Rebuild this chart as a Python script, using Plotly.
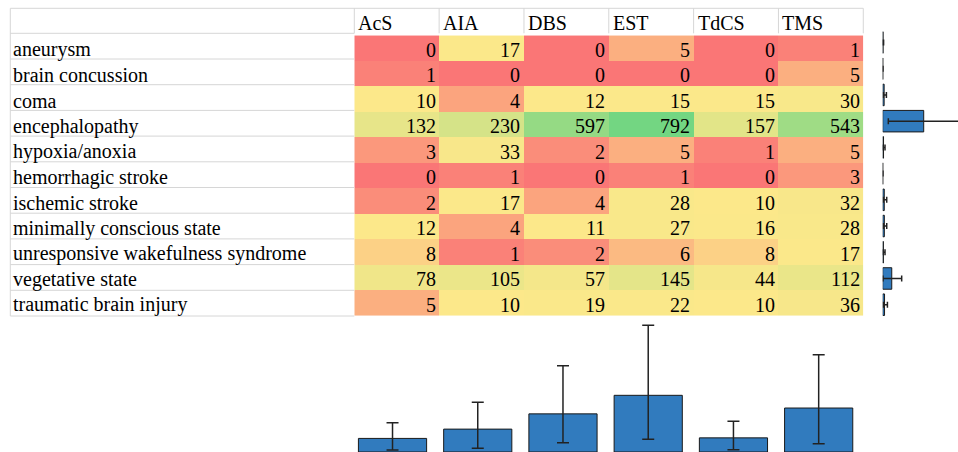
import numpy as np
import plotly.graph_objects as go

# ---------------- data ----------------
rows = ["aneurysm", "brain concussion", "coma", "encephalopathy", "hypoxia/anoxia",
        "hemorrhagic stroke", "ischemic stroke", "minimally conscious state",
        "unresponsive wakefulness syndrome", "vegetative state", "traumatic brain injury"]
cols = ["AcS", "AIA", "DBS", "EST", "TdCS", "TMS"]

acs = [0, 1, 10, 132, 3, 0, 2, 12, 8, 78, 5]
aia = [17, 0, 4, 230, 33, 1, 17, 4, 1, 105, 10]
dbs = [0, 0, 12, 597, 2, 0, 4, 11, 2, 57, 19]
est = [5, 0, 15, 792, 5, 1, 28, 27, 6, 145, 22]
tdcs = [0, 0, 15, 157, 1, 0, 10, 16, 8, 44, 10]
tms = [1, 5, 30, 543, 5, 3, 32, 28, 17, 112, 36]

# right-hand bar chart (per row)
row_mean = [3.8, 1.0, 14.3, 408.5, 8.2, 0.8, 15.5, 16.3, 7.0, 90.2, 18.3]
row_low = [0.3, 0.0, 7.0, 56.0, 2.0, 0.0, 7.0, 7.0, 2.0, 3.0, 7.0]
row_high = [9.0, 3.0, 37.0, 900.0, 23.0, 2.5, 40.0, 40.0, 23.0, 189.0, 47.0]

# bottom bar chart (per column)
col_mean = [22.8, 38.4, 64.0, 95.1, 23.7, 73.8]
col_low = [3.4, 6.2, 15.6, 21.3, 3.9, 13.9]
col_high = [49.2, 83.4, 144.8, 212.6, 51.5, 163.3]

# ---------------- geometry (window pixels) ----------------
W, H = 958, 452
TL, TT, HB = 10.3, 8.3, 33.3
C0, CW, RH = 354.3, 84.83, 25.7
NR, NC = len(rows), len(cols)
C_END = C0 + NC * CW
T_BOT = HB + NR * RH


def fx(p):
    return p / W


def fy(p):
    return 1 - p / H


FONT = dict(family="Liberation Serif, Times New Roman, serif", size=20, color="#000000")
RED, YEL, GRN = "#FA7676", "#FCE88A", "#73D682"
BAR = "#317BBE"
GRID = "#d6d6d6"
YS = -1.5

table = np.array([acs, aia, dbs, est, tdcs, tms]).T  # rows x cols
med = float(np.median(table))
vmax = float(table.max())
zc = np.where(table <= med, 0.5 * table / med, 0.5 + 0.5 * (table - med) / (vmax - med))

fig = go.Figure()

fig.add_trace(go.Heatmap(
    z=zc, x=cols, y=rows, zmin=0, zmax=1,
    colorscale=[[0, RED], [0.5, YEL], [1, GRN]],
    showscale=False, hoverinfo="skip", xaxis="x", yaxis="y",
))

fig.add_trace(go.Bar(
    x=row_mean, y=rows, orientation="h", width=0.82,
    marker=dict(color=BAR, line=dict(color="#1a1a1a", width=1)),
    error_x=dict(type="data", symmetric=False,
                 array=[h - m for h, m in zip(row_high, row_mean)],
                 arrayminus=[m - l for l, m in zip(row_low, row_mean)],
                 color="#222222", thickness=1.5, width=3),
    xaxis="x2", yaxis="y2", hoverinfo="skip", cliponaxis=True,
))

fig.add_trace(go.Bar(
    x=cols, y=col_mean, width=0.8,
    marker=dict(color=BAR, line=dict(color="#1a1a1a", width=1)),
    error_y=dict(type="data", symmetric=False,
                 array=[h - m for h, m in zip(col_high, col_mean)],
                 arrayminus=[m - l for l, m in zip(col_low, col_mean)],
                 color="#222222", thickness=1.5, width=6),
    xaxis="x3", yaxis="y3", hoverinfo="skip",
))

ann = []
for i, r in enumerate(rows):
    ann.append(dict(x=fx(TL + 1), xref="paper", y=r, yref="y", text=r,
                    xanchor="left", yanchor="middle", yshift=YS, showarrow=False, font=FONT))
    for j, c in enumerate(cols):
        ann.append(dict(x=c, xref="x", y=r, yref="y", text=str(int(table[i, j])),
                        xanchor="right", yanchor="middle", xshift=CW / 2 - 1.5, yshift=YS,
                        showarrow=False, font=FONT))
for c in cols:
    ann.append(dict(x=c, xref="x", y=fy((TT + HB) / 2), yref="paper", text=c,
                    xanchor="left", yanchor="middle", xshift=-CW / 2 + 2, yshift=YS - 0.5,
                    showarrow=False, font=FONT))

shapes = []
line = dict(color=GRID, width=1)
shapes.append(dict(type="line", xref="paper", yref="paper", x0=fx(TL), x1=fx(C_END),
                   y0=fy(TT), y1=fy(TT), line=line))
shapes.append(dict(type="line", xref="paper", yref="paper", x0=fx(TL), x1=fx(TL),
                   y0=fy(TT), y1=fy(T_BOT), line=line))
for i in range(NR + 1):
    yy = HB + i * RH
    shapes.append(dict(type="line", xref="paper", yref="paper", x0=fx(TL), x1=fx(C0),
                       y0=fy(yy), y1=fy(yy), line=line))
for j in range(NC + 1):
    xx = C0 + j * CW
    shapes.append(dict(type="line", xref="paper", yref="paper", x0=fx(xx), x1=fx(xx),
                       y0=fy(TT), y1=fy(HB), line=line))

hidden = dict(showticklabels=False, showgrid=False, zeroline=False, showline=False, ticks="")

fig.update_layout(
    width=W, height=H, margin=dict(l=0, r=0, t=0, b=0, pad=0),
    paper_bgcolor="white", plot_bgcolor="white", showlegend=False,
    xaxis=dict(domain=[fx(C0), fx(C_END)], **hidden),
    yaxis=dict(domain=[fy(T_BOT), fy(HB)], autorange="reversed", **hidden),
    xaxis2=dict(domain=[fx(882.7), 1.0], range=[0, 750], anchor="y2", **hidden),
    yaxis2=dict(domain=[fy(317.8), fy(29.4)], autorange="reversed", anchor="x2", **hidden),
    xaxis3=dict(domain=[fx(349.9), fx(861.3)], anchor="y3", **hidden),
    yaxis3=dict(domain=[0, fy(318)], range=[0, (H - 318) / 0.596], anchor="x3", **hidden),
    annotations=ann, shapes=shapes,
)

fig.write_html("out.html", config={"displayModeBar": False},
               post_script="document.body.style.margin='0px';document.body.style.overflow='hidden';")
